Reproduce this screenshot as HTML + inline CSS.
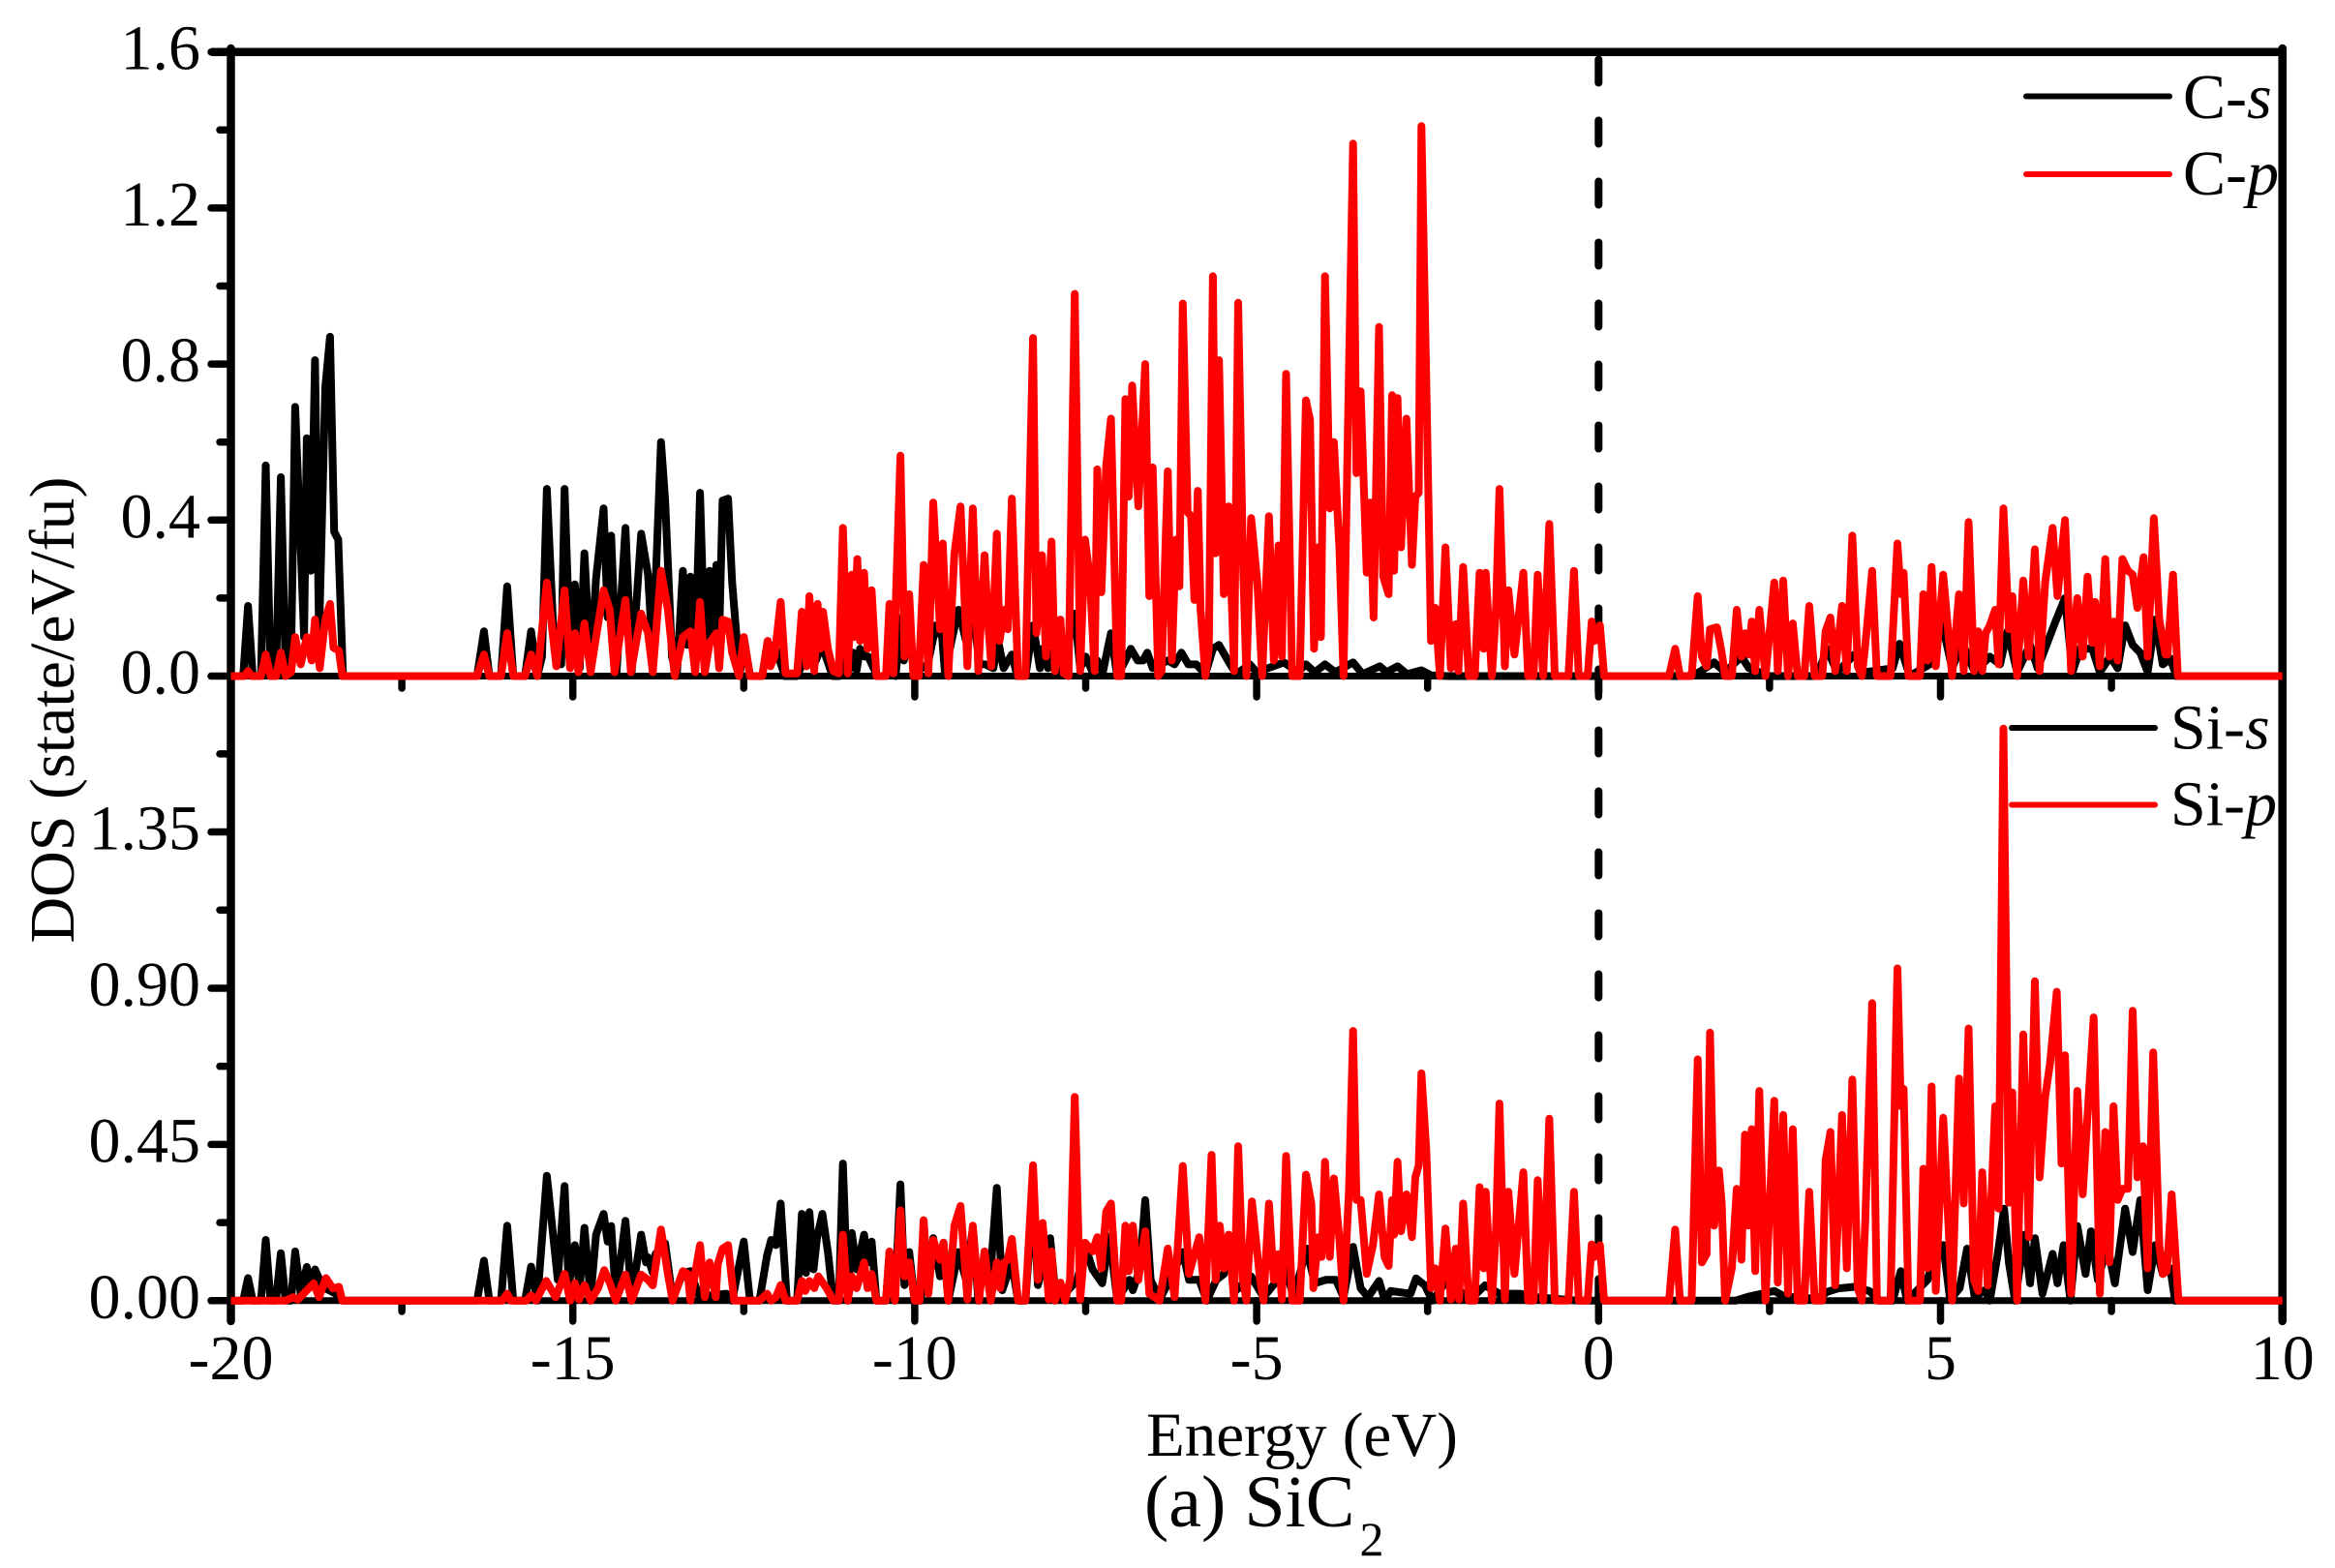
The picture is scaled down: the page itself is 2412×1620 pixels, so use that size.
<!DOCTYPE html>
<html>
<head>
<meta charset="utf-8">
<title>SiC2 DOS</title>
<style>
html,body{margin:0;padding:0;background:#fff;width:2412px;height:1620px;overflow:hidden}
svg{display:block}
text{font-family:"Liberation Serif","Times New Roman",serif;fill:#000}
</style>
</head>
<body>
<svg id="chart" xmlns="http://www.w3.org/2000/svg" width="2412" height="1620" viewBox="0 0 2412 1620">
  <rect x="0" y="0" width="2412" height="1620" fill="#fff"/>
  <g id="ticks"></g>
  <g id="tick-labels"></g>
  <g id="fermi"></g>
  <g id="frame"></g>
  <g id="series"></g>
  <text x="76" y="733.5" font-size="66" text-anchor="middle" transform="rotate(-90 76 733.5)">DOS (state/eV/fu)</text>
  <text x="1184" y="1504" font-size="65">Energy (eV)</text>
  <text x="1182" y="1577" font-size="76">(a) SiC<tspan font-size="50" dx="5" dy="30">2</tspan></text>
  <g>
    <line x1="2093" y1="99.5" x2="2241" y2="99.5" stroke="#000" stroke-width="6" stroke-linecap="round"/>
    <text x="2255" y="122" font-size="66">C-<tspan font-style="italic">s</tspan></text>
    <line x1="2093" y1="180" x2="2241" y2="180" stroke="#f00" stroke-width="6" stroke-linecap="round"/>
    <text x="2255" y="201" font-size="66">C-<tspan font-style="italic">p</tspan></text>
  </g>
  <g>
    <line x1="2078" y1="752" x2="2226" y2="752" stroke="#000" stroke-width="6" stroke-linecap="round"/>
    <text x="2242" y="773.5" font-size="66">Si-<tspan font-style="italic">s</tspan></text>
    <line x1="2078" y1="831.5" x2="2226" y2="831.5" stroke="#f00" stroke-width="6" stroke-linecap="round"/>
    <text x="2242" y="852.5" font-size="66">Si-<tspan font-style="italic">p</tspan></text>
  </g>
</svg>
<script>
var xTickValues=[-20,-15,-10,-5,0,5,10];
var xMinorValues=[-17.5,-12.5,-7.5,-2.5,2.5,7.5];
var xTickLabels=["-20","-15","-10","-5","0","5","10"];
var topTickValues=[0,0.4,0.8,1.2,1.6];
var topMinorValues=[0.2,0.6,1.0,1.4];
var topTickLabels=["0.0","0.4","0.8","1.2","1.6"];
var bottomTickValues=[0,0.45,0.9,1.35];
var bottomMinorValues=[0.225,0.675,1.125,1.575];
var bottomTickLabels=["0.00","0.45","0.90","1.35"];

var csEnergy=[-20,-19.82,-19.75,-19.68,-19.56,-19.49,-19.42,-19.34,-19.27,-19.2,-19.12,-19.06,-18.98,-18.93,-18.89,-18.83,-18.77,-18.71,-18.62,-18.55,-18.49,-18.43,-18.36,-16.4,-16.3,-16.22,-16.05,-15.96,-15.87,-15.7,-15.61,-15.52,-15.45,-15.38,-15.28,-15.22,-15.17,-15.12,-15.04,-14.97,-14.9,-14.83,-14.74,-14.66,-14.55,-14.49,-14.44,-14.36,-14.23,-14.14,-14.0,-13.9,-13.83,-13.71,-13.65,-13.55,-13.48,-13.39,-13.33,-13.28,-13.21,-13.14,-13.07,-13.0,-12.95,-12.9,-12.86,-12.81,-12.73,-12.67,-12.56,-12.5,-12.41,-12.23,-12.15,-12.1,-12.05,-11.9,-11.72,-11.6,-11.47,-11.4,-11.32,-11.2,-11.1,-11.05,-10.97,-10.9,-10.85,-10.8,-10.73,-10.68,-10.6,-10.55,-10.42,-10.35,-10.28,-10.2,-10.16,-10.08,-10.0,-9.9,-9.81,-9.69,-9.6,-9.56,-9.45,-9.36,-9.25,-9.15,-9.05,-8.97,-8.85,-8.78,-8.7,-8.58,-8.5,-8.38,-8.27,-8.17,-8.13,-8.05,-8.0,-7.85,-7.66,-7.58,-7.5,-7.4,-7.33,-7.25,-7.13,-7.04,-6.92,-6.84,-6.74,-6.66,-6.6,-6.52,-6.3,-6.2,-6.1,-6.0,-5.88,-5.75,-5.64,-5.55,-5.42,-5.3,-5.1,-5.0,-4.6,-4.4,-4.28,-4.15,-4.0,-3.85,-3.59,-3.45,-3.2,-3.1,-2.94,-2.8,-2.59,-2.45,-2.2,1.3,1.47,1.69,1.85,2.09,2.2,2.5,3.2,3.34,3.49,3.74,3.89,4.3,4.4,4.55,4.84,5.03,5.17,5.32,5.5,5.72,5.87,5.98,6.12,6.31,6.42,6.67,6.82,6.93,7.04,7.22,7.33,7.48,7.59,7.7,7.81,7.92,8.03,8.14,8.25,8.36,8.45,10];
var csValue=[0,0,.18,0,0,.54,0,0,.51,.02,.05,.69,.33,.1,.61,.27,.81,.1,.74,.87,.37,.35,0,0,.115,0,0,.23,0,0,.115,0,.05,.48,.1,.12,.03,.48,.05,.235,.02,.315,.02,.25,.43,.15,.36,.01,.38,.01,.365,.26,.05,.6,.45,.05,0,.27,.08,.255,.05,.47,.06,.27,.1,.285,.1,.45,.455,.24,0,.1,0,0,.09,.05,.08,0,0,.05,.03,.06,.06,0,0,.1,.01,.06,.015,.07,.05,.05,.02,0,0,.06,0,.15,.04,.1,0,.02,.03,.13,.1,.01,.1,.17,.09,.16,.03,.03,.02,.09,.02,.055,0,0,.13,.02,.07,.02,.06,.01,.16,.02,.05,.01,.04,.01,.11,0,.04,.07,.04,.04,.06,.02,.04,.03,.06,.03,.03,.005,.07,.08,.04,.005,.03,.01,.035,.01,.03,.01,.03,.01,.035,.005,.025,.01,.025,.005,.015,.002,0,0,.01,.035,.01,.05,.02,0,0,.07,.01,.055,.01,.02,.083,0,.03,.13,.02,.085,.01,.05,.03,.115,.01,.08,.02,.135,.2,.01,.07,.07,.01,.05,.02,.13,.08,.06,.01,.145,.03,.045,0,0];

var cpEnergy=[-20,-19.8,-19.75,-19.7,-19.56,-19.49,-19.42,-19.34,-19.27,-19.2,-19.12,-19.06,-18.98,-18.89,-18.82,-18.77,-18.7,-18.62,-18.55,-18.5,-18.42,-18.37,-16.4,-16.3,-16.22,-16.05,-15.96,-15.87,-15.7,-15.61,-15.52,-15.38,-15.24,-15.12,-15.04,-14.97,-14.92,-14.83,-14.74,-14.66,-14.55,-14.46,-14.39,-14.23,-14.15,-14.0,-13.9,-13.83,-13.71,-13.61,-13.51,-13.39,-13.28,-13.21,-13.14,-13.07,-13.0,-12.9,-12.86,-12.81,-12.73,-12.67,-12.57,-12.5,-12.41,-12.23,-12.15,-12.11,-12.05,-11.96,-11.89,-11.72,-11.65,-11.58,-11.54,-11.47,-11.42,-11.38,-11.34,-11.27,-11.19,-11.11,-11.05,-10.98,-10.92,-10.89,-10.84,-10.8,-10.74,-10.69,-10.63,-10.56,-10.42,-10.37,-10.31,-10.21,-10.15,-10.08,-10.02,-9.94,-9.87,-9.8,-9.73,-9.63,-9.59,-9.51,-9.42,-9.33,-9.23,-9.15,-9.07,-8.98,-8.93,-8.88,-8.8,-8.76,-8.69,-8.64,-8.58,-8.49,-8.38,-8.27,-8.22,-8.14,-8.08,-8.0,-7.95,-7.87,-7.82,-7.75,-7.66,-7.58,-7.51,-7.44,-7.37,-7.33,-7.27,-7.2,-7.13,-7.04,-6.98,-6.92,-6.87,-6.82,-6.73,-6.63,-6.57,-6.52,-6.44,-6.39,-6.3,-6.24,-6.18,-6.13,-6.08,-6.01,-5.96,-5.91,-5.86,-5.82,-5.75,-5.7,-5.64,-5.6,-5.55,-5.48,-5.41,-5.33,-5.27,-5.2,-5.15,-5.08,-4.99,-4.92,-4.82,-4.75,-4.68,-4.63,-4.57,-4.48,-4.37,-4.28,-4.22,-4.16,-4.1,-4.06,-4.0,-3.93,-3.87,-3.79,-3.73,-3.65,-3.59,-3.54,-3.48,-3.39,-3.34,-3.29,-3.21,-3.15,-3.07,-3.02,-2.99,-2.94,-2.89,-2.81,-2.73,-2.68,-2.63,-2.59,-2.52,-2.45,-2.39,-2.32,-2.24,-2.16,-2.09,-2.05,-1.98,-1.9,-1.81,-1.74,-1.68,-1.65,-1.56,-1.5,-1.45,-1.37,-1.32,-1.23,-1.1,-1.03,-.95,-.89,-.81,-.72,-.64,-.44,-.36,-.29,-.16,-.1,-.06,.02,.08,1.03,1.12,1.19,1.36,1.45,1.51,1.58,1.63,1.73,1.8,1.85,1.95,2.02,2.09,2.14,2.2,2.24,2.29,2.35,2.44,2.57,2.62,2.7,2.77,2.84,2.91,3.01,3.08,3.16,3.27,3.32,3.39,3.46,3.56,3.63,3.71,3.79,3.85,3.9,4.0,4.07,4.27,4.37,4.42,4.46,4.53,4.7,4.75,4.81,4.87,4.93,5.04,5.17,5.27,5.34,5.41,5.49,5.55,5.61,5.66,5.72,5.8,5.85,5.92,6.0,6.05,6.12,6.21,6.29,6.38,6.45,6.53,6.64,6.71,6.82,6.91,7.0,7.08,7.15,7.22,7.26,7.33,7.41,7.47,7.53,7.59,7.66,7.74,7.81,7.88,7.97,8.03,8.12,8.2,8.29,8.32,8.4,8.47,10];
var cpValue=[0,0,.013,0,0,.055,0,0,.06,0,.01,.1,.03,.1,.04,.145,.02,.145,.185,.073,.065,0,0,.055,0,0,.11,0,0,.055,0,.24,.025,.22,.02,.11,.01,.135,.01,.1,.22,.17,.01,.195,.01,.16,.11,.01,.27,.17,0,.1,.115,.01,.19,.01,.085,.11,.02,.145,.14,.06,0,.1,0,0,.09,.025,.05,.19,.007,.007,.165,.025,.205,.013,.185,.07,.165,.07,.013,.007,.38,.007,.26,.1,.3,.09,.265,.07,.22,0,0,.185,.007,.565,.05,.21,0,0,.285,.007,.445,.12,.34,0,.315,.435,.025,.43,.013,.31,.145,.025,.365,.09,.17,.12,.455,0,0,.867,.11,.31,.05,.345,.013,.145,.007,0,.98,.013,.35,.255,.013,.53,.215,.54,.66,0,0,.71,.46,.745,.435,.8,.205,.535,0,.013,.525,.04,.35,.23,.955,.42,.41,.195,.475,.17,0,.07,1.025,.315,.81,.21,.435,.013,.957,.29,0,.405,.24,0,.41,.04,.335,.05,.775,0,0,.707,.657,.07,.33,.1,1.025,.43,.6,.325,0,.795,1.365,.52,.73,.265,.445,.15,.895,.255,.21,.72,.27,.713,.33,.66,.285,.46,.47,1.41,.76,.09,.175,0,.33,.02,.133,.013,.28,0,0,.265,.07,.265,0,.17,.48,.025,.22,.055,.265,0,0,.26,0,.39,0,0,.27,0,0,.14,.09,.13,0,0,.07,0,0,.205,.05,.025,.12,.125,.06,0,0,.17,.05,.11,.055,.14,.013,.17,0,.24,.013,.245,0,.135,0,0,.18,0,0,.115,.15,.013,.18,.013,.36,.025,0,.08,.27,0,0,.34,.21,.265,0,0,.21,.04,.28,.025,.26,0,.21,.013,.395,.013,.115,.013,.11,.13,.17,.03,.43,.12,.205,0,.245,.05,.325,.013,.24,.38,.205,.4,.013,.2,.05,.255,.085,.19,.025,.3,.05,.14,.04,.3,.27,.26,.175,.305,.05,.405,.145,.055,.055,.26,0,0];

var sisEnergy=[-20,-19.82,-19.75,-19.68,-19.56,-19.49,-19.42,-19.34,-19.27,-19.2,-19.12,-19.06,-18.98,-18.89,-18.83,-18.77,-18.66,-18.47,-18.37,-16.4,-16.3,-16.22,-16.05,-15.96,-15.87,-15.7,-15.61,-15.52,-15.38,-15.22,-15.12,-15.06,-14.97,-14.9,-14.83,-14.74,-14.66,-14.55,-14.49,-14.44,-14.37,-14.23,-14.14,-14.0,-13.93,-13.9,-13.83,-13.79,-13.65,-13.54,-13.39,-13.28,-13.17,-13.0,-12.75,-12.67,-12.5,-12.41,-12.27,-12.16,-12.1,-12.03,-11.96,-11.87,-11.72,-11.65,-11.59,-11.54,-11.48,-11.43,-11.35,-11.27,-11.19,-11.11,-11.05,-10.98,-10.92,-10.85,-10.74,-10.69,-10.63,-10.56,-10.42,-10.37,-10.29,-10.21,-10.15,-10.08,-10.0,-9.91,-9.87,-9.8,-9.73,-9.63,-9.58,-9.51,-9.36,-9.25,-9.15,-9.07,-8.98,-8.91,-8.8,-8.72,-8.58,-8.49,-8.38,-8.27,-8.2,-8.02,-7.95,-7.85,-7.69,-7.62,-7.51,-7.4,-7.26,-7.15,-7.04,-6.86,-6.81,-6.71,-6.63,-6.55,-6.42,-6.31,-6.08,-5.99,-5.84,-5.73,-5.59,-5.48,-5.41,-5.3,-5.08,-4.9,-4.57,-4.46,-4.27,-4.15,-3.99,-3.84,-3.73,-3.59,-3.48,-3.37,-3.21,-3.13,-3.04,-2.75,-2.67,-2.54,-2.43,-2.25,-2.03,-1.88,-1.66,-1.45,-1.15,-.9,-.3,2.0,2.2,2.57,2.72,3.2,3.34,3.5,3.74,3.96,4.11,4.3,4.42,4.51,4.81,4.95,5.04,5.14,5.28,5.39,5.5,5.65,5.72,5.83,5.93,6.0,6.09,6.23,6.31,6.38,6.49,6.64,6.71,6.8,6.9,7.0,7.12,7.2,7.3,7.44,7.55,7.7,7.81,7.92,8.03,8.14,8.25,8.36,8.43,10];
var sisValue=[0,0,.065,0,0,.175,0,0,.137,0,0,.142,.02,.097,.04,.09,.04,.02,0,0,.115,0,0,.216,0,0,.098,0,.36,.06,.33,.04,.16,.035,.21,.01,.19,.25,.17,.215,.01,.23,.01,.19,.11,.125,.08,.135,.165,.003,.08,.085,.02,.015,.02,0,.17,0,0,.13,.175,.16,.28,0,0,.25,.08,.255,.09,.18,.25,.14,0,0,.395,0,.195,.09,.19,.11,.17,0,0,.14,0,.335,.045,.14,0,0,.225,.03,.18,.07,.167,0,.14,.06,.21,0,.14,.03,.325,.03,.11,0,0,.31,.045,.18,.035,.01,.045,.06,.16,.09,.05,.185,.003,.06,.03,.09,.29,.06,.003,.045,.14,.06,.06,0,.06,.077,.126,.03,.07,.01,.09,.01,.15,.05,.06,.06,.01,.155,.036,.01,.057,.003,.028,.02,.064,.044,0,.05,.028,.003,.044,.02,.02,.01,0,0,.012,.028,.012,.005,.025,.035,.04,.028,0,0,.085,0,.06,.16,.16,.003,.036,.15,.01,.03,0,.125,.265,.11,0,.19,.05,.18,.02,.135,.05,.16,0,.215,.077,.2,.06,.16,.05,.265,.14,.29,.03,.16,.077,.093,0,0];

var sipEnergy=[-20,-19.2,-19.09,-19.02,-18.79,-18.71,-18.61,-18.51,-18.42,-18.37,-16.03,-15.96,-15.91,-15.68,-15.61,-15.54,-15.39,-15.25,-15.12,-15.04,-14.97,-14.91,-14.83,-14.74,-14.63,-14.54,-14.46,-14.37,-14.23,-14.14,-14.0,-13.9,-13.83,-13.71,-13.61,-13.54,-13.39,-13.32,-13.28,-13.14,-13.07,-13.0,-12.91,-12.88,-12.81,-12.73,-12.64,-12.27,-12.16,-12.1,-12.03,-11.96,-11.89,-11.72,-11.65,-11.6,-11.54,-11.47,-11.41,-11.29,-11.19,-11.11,-11.05,-10.98,-10.92,-10.85,-10.74,-10.69,-10.63,-10.56,-10.42,-10.37,-10.29,-10.21,-10.15,-10.08,-10.0,-9.93,-9.87,-9.8,-9.73,-9.63,-9.58,-9.51,-9.42,-9.33,-9.23,-9.15,-9.06,-8.98,-8.89,-8.8,-8.75,-8.69,-8.64,-8.58,-8.49,-8.38,-8.27,-8.2,-8.13,-8.04,-8.0,-7.95,-7.87,-7.8,-7.73,-7.66,-7.58,-7.51,-7.4,-7.33,-7.27,-7.2,-7.13,-7.04,-6.98,-6.92,-6.87,-6.81,-6.73,-6.63,-6.57,-6.42,-6.3,-6.2,-6.08,-5.99,-5.84,-5.75,-5.66,-5.6,-5.54,-5.48,-5.41,-5.33,-5.27,-5.2,-5.15,-5.07,-4.95,-4.9,-4.82,-4.75,-4.68,-4.63,-4.57,-4.48,-4.37,-4.28,-4.2,-4.17,-4.1,-4.05,-4.0,-3.93,-3.87,-3.79,-3.73,-3.65,-3.59,-3.54,-3.48,-3.39,-3.3,-3.21,-3.13,-3.07,-3.02,-2.99,-2.94,-2.89,-2.81,-2.73,-2.68,-2.63,-2.59,-2.52,-2.45,-2.39,-2.32,-2.24,-2.16,-2.09,-2.04,-1.98,-1.9,-1.81,-1.74,-1.68,-1.65,-1.56,-1.5,-1.45,-1.37,-1.32,-1.23,-1.1,-1.03,-.95,-.89,-.81,-.72,-.64,-.44,-.36,-.29,-.16,-.1,-.06,.02,.08,1.03,1.12,1.19,1.36,1.45,1.51,1.58,1.63,1.69,1.76,1.8,1.85,1.95,2.02,2.09,2.14,2.19,2.24,2.29,2.35,2.44,2.57,2.62,2.7,2.77,2.84,2.91,3.01,3.08,3.16,3.27,3.32,3.39,3.46,3.56,3.63,3.71,3.79,3.85,3.9,4.0,4.07,4.27,4.37,4.42,4.46,4.53,4.7,4.75,4.81,4.87,4.93,5.04,5.17,5.27,5.34,5.41,5.49,5.55,5.61,5.69,5.8,5.85,5.92,6.0,6.05,6.12,6.21,6.29,6.38,6.45,6.53,6.6,6.7,6.77,6.82,6.91,7.0,7.08,7.15,7.24,7.33,7.41,7.47,7.53,7.59,7.66,7.74,7.81,7.88,7.96,8.03,8.11,8.2,8.25,8.31,8.38,8.48,10];
var sipValue=[0,0,.01,.003,.05,.01,.065,.035,.04,0,0,.02,0,0,.015,0,.057,.01,.077,0,.05,.003,.045,0,.036,.088,.052,0,.075,0,.075,.06,.044,.205,.077,0,.085,.077,0,.16,.01,.11,.01,.106,.15,.16,0,0,.02,0,.01,.045,0,0,.057,.028,.057,.036,.07,.036,0,0,.19,0,.07,.036,.11,.036,.077,0,0,.142,0,.26,.07,.11,0,0,.232,.02,.175,.118,.167,0,.216,.273,.003,.216,0,.142,0,.11,.036,.11,.118,.178,0,0,.39,.06,.224,.003,.142,0,.052,0,.06,.587,.003,.167,.142,.183,.093,.257,.28,0,0,.216,.085,.216,.06,.2,.02,0,.15,.01,.388,.077,.183,0,.42,.06,.216,.093,.19,0,.445,.06,0,.286,.06,0,.28,.06,.134,.003,.417,0,0,.363,.28,.036,.183,.126,.4,.126,.352,.175,0,.32,.777,.29,.29,.077,.16,.306,.126,.1,.29,.19,.4,.2,.306,.183,.355,.39,.655,.435,.036,.093,0,.208,.003,.15,.003,.28,0,0,.327,.093,.314,0,.2,.568,.003,.314,.077,.37,0,0,.347,0,.524,0,0,.314,0,0,.162,.126,.16,0,0,.205,0,0,.695,.11,.134,.772,.216,.375,.28,0,.094,.322,.118,.478,.216,.494,.085,.604,0,.576,.052,.535,.02,.494,0,0,.314,0,0,.404,.486,.044,.535,.093,.637,.036,0,.232,.857,0,0,.957,.56,.61,0,0,.38,.093,.617,.028,.527,0,.64,.28,.784,.06,.028,.37,.044,.56,.265,1.648,.282,.6,0,.767,.183,.92,.355,.587,.68,.89,.395,.707,.02,.604,.306,.535,.816,.02,.486,.11,.56,.29,.322,.322,.835,.355,.445,.093,.715,.16,.077,.085,.306,0,0];

var NS="http://www.w3.org/2000/svg";
function xScale(e){return 1651.3+70.64*e;}
function yTop(v){return 698.5-403*v;}
function yBottom(v){return 1343.8-358.7*v;}
function shape(tag,parent,attrs){
  var el=document.createElementNS(NS,tag);
  for(var k in attrs){el.setAttribute(k,attrs[k]);}
  parent.appendChild(el);
  return el;
}
function lineEl(parent,x1,y1,x2,y2,w,col,cap){
  return shape("line",parent,{x1:x1,y1:y1,x2:x2,y2:y2,stroke:col||"#000","stroke-width":w,"stroke-linecap":cap||"round"});
}
var ticksG=document.getElementById("ticks");
var labelsG=document.getElementById("tick-labels");
var frameG=document.getElementById("frame");
var seriesG=document.getElementById("series");
var fermiG=document.getElementById("fermi");

xTickValues.forEach(function(v,i){
  var a=lineEl(ticksG,xScale(v),698.5,xScale(v),720,7.5);
  
  
  var b=lineEl(ticksG,xScale(v),1343.8,xScale(v),1365,7.5);
  
  
  var t=shape("text",labelsG,{x:xScale(v),y:1425,"font-size":66,"text-anchor":"middle"});
  t.textContent=xTickLabels[i];
  
  
});
xMinorValues.forEach(function(v){
  var a=lineEl(ticksG,xScale(v),698.5,xScale(v),711,7.5);
  
  
  var b=lineEl(ticksG,xScale(v),1343.8,xScale(v),1355,7.5);
  
  
});
topTickValues.forEach(function(v,i){
  var a=lineEl(ticksG,218,yTop(v),238,yTop(v),7.5);
  
  
  var t=shape("text",labelsG,{x:207,y:yTop(v)+18,"font-size":66,"text-anchor":"end"});
  t.textContent=topTickLabels[i];
  
  
});
topMinorValues.forEach(function(v){
  var a=lineEl(ticksG,227,yTop(v),238,yTop(v),7.5);
  
  
});
bottomTickValues.forEach(function(v,i){
  var a=lineEl(ticksG,218,yBottom(v),238,yBottom(v),7.5);
  
  
  var t=shape("text",labelsG,{x:207,y:yBottom(v)+18,"font-size":66,"text-anchor":"end"});
  t.textContent=bottomTickLabels[i];
  
  
});
bottomMinorValues.forEach(function(v){
  var a=lineEl(ticksG,227,yBottom(v),238,yBottom(v),7.5);
  
  
});

var fermi=shape("line",fermiG,{x1:xScale(0),y1:61.5,x2:xScale(0),y2:1345,stroke:"#000","stroke-width":8,"stroke-linecap":"round","stroke-dasharray":"24 39"});



var fTop=lineEl(frameG,218,53.8,xScale(10)+4,53.8,8.5,"#000","butt");


var fLeft=lineEl(frameG,xScale(-20),50,xScale(-20),1365,8.5);


var fRight=lineEl(frameG,xScale(10),50,xScale(10),1365,8.5);


var fMid=lineEl(frameG,xScale(-20),yTop(0),xScale(10),yTop(0),7,"#000","butt");


var fBot=lineEl(frameG,xScale(-20),yBottom(0),xScale(10),yBottom(0),7,"#000","butt");



function seriesPath(energy,values,yFn,col){
  var d="";
  for(var i=0;i<energy.length;i++){
    d+=(i?"L":"M")+xScale(energy[i]).toFixed(1)+" "+yFn(values[i]).toFixed(1);
  }
  return shape("path",seriesG,{d:d,fill:"none",stroke:col,"stroke-width":8,"stroke-linejoin":"round","stroke-linecap":"butt"});
}
var p1=seriesPath(csEnergy,csValue,yTop,"#000");


var p2=seriesPath(cpEnergy,cpValue,yTop,"#f00");


var p3=seriesPath(sisEnergy,sisValue,yBottom,"#000");


var p4=seriesPath(sipEnergy,sipValue,yBottom,"#f00");


</script>
</body>
</html>
